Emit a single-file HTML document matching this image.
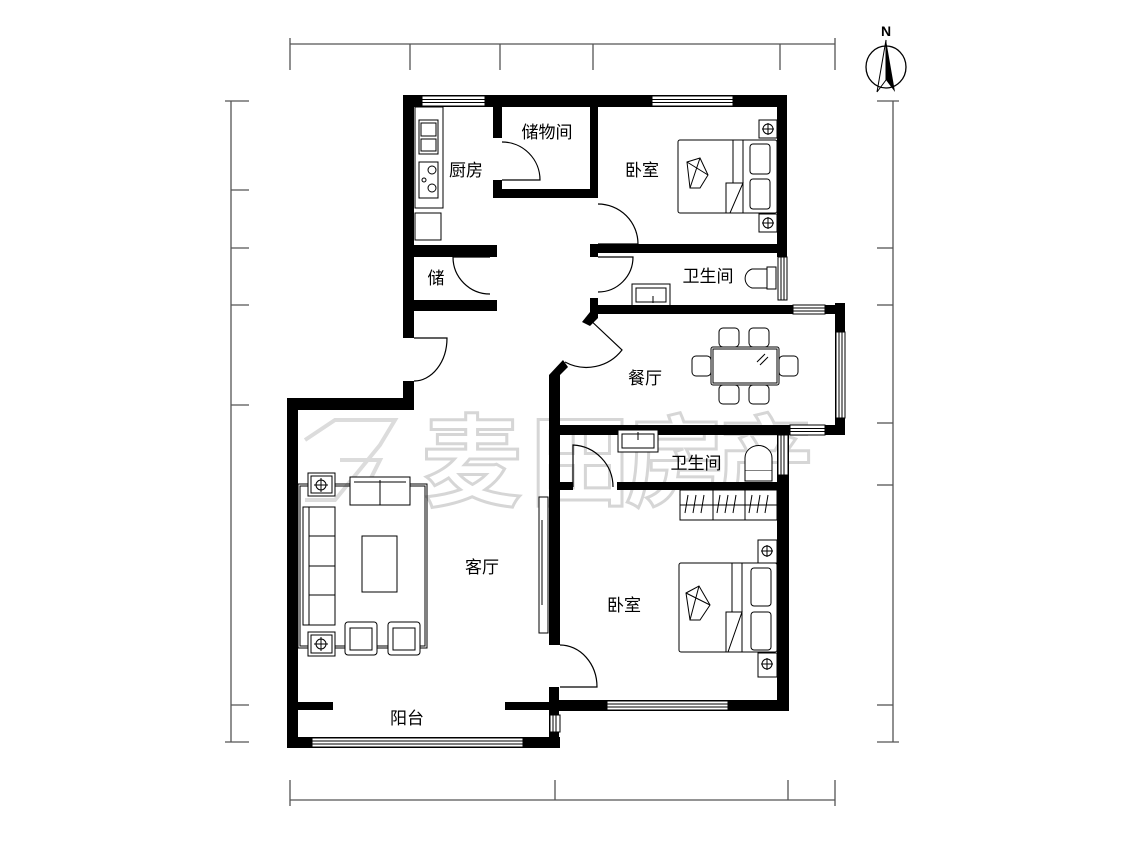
<!DOCTYPE html>
<html><head><meta charset="utf-8"><style>
html,body{margin:0;padding:0;background:#fff;}
svg{display:block;}
text{font-family:"Liberation Sans","Noto Sans CJK SC",sans-serif;}
</style></head><body>
<svg width="1125" height="844" viewBox="0 0 1125 844" xmlns="http://www.w3.org/2000/svg">
<rect width="1125" height="844" fill="#fff"/>
<g stroke="#555" stroke-width="1.3" fill="none">
<line x1="290" y1="44" x2="835" y2="44"/>
<line x1="290" y1="38" x2="290" y2="70"/><line x1="410" y1="44" x2="410" y2="70"/><line x1="500" y1="44" x2="500" y2="70"/><line x1="593" y1="44" x2="593" y2="70"/><line x1="780" y1="44" x2="780" y2="70"/><line x1="835" y1="38" x2="835" y2="70"/>
<line x1="290" y1="800" x2="835" y2="800"/>
<line x1="290" y1="780" x2="290" y2="806"/><line x1="555" y1="780" x2="555" y2="800"/><line x1="788" y1="780" x2="788" y2="800"/><line x1="835" y1="780" x2="835" y2="806"/>
<line x1="231" y1="101" x2="231" y2="742"/>
<line x1="225" y1="101" x2="249" y2="101"/><line x1="231" y1="190" x2="249" y2="190"/><line x1="231" y1="248" x2="249" y2="248"/><line x1="231" y1="305" x2="249" y2="305"/><line x1="231" y1="405" x2="249" y2="405"/><line x1="231" y1="705" x2="249" y2="705"/><line x1="225" y1="742" x2="249" y2="742"/>
<line x1="893" y1="101" x2="893" y2="742"/>
<line x1="877" y1="101" x2="899" y2="101"/><line x1="877" y1="248" x2="893" y2="248"/><line x1="877" y1="305" x2="893" y2="305"/><line x1="877" y1="423" x2="893" y2="423"/><line x1="877" y1="485" x2="893" y2="485"/><line x1="877" y1="705" x2="893" y2="705"/><line x1="877" y1="742" x2="899" y2="742"/>
</g>
<g>
<ellipse cx="886" cy="67" rx="20" ry="21" fill="none" stroke="#000" stroke-width="1.3"/>
<polygon points="886,40 877,92 886,80" fill="none" stroke="#000" stroke-width="1"/>
<polygon points="886,40 895,92 886,80" fill="#000"/>
<text x="886" y="36" font-size="14" text-anchor="middle" font-weight="bold">N</text>
</g>
<!-- watermark -->
<g fill="none" stroke="#dcdcdc" stroke-width="4">
<path d="M305 440 L335 420 L395 420 L380 445 L335 500 L305 500 M340 460 L380 460 L360 500"/>
</g>
<g font-size="100" fill="#fff" stroke="#d6d6d6" stroke-width="3" font-weight="bold">
<text x="422" y="498">麦</text><text x="530" y="498">田</text><text x="625" y="498">房</text><text x="715" y="498">产</text>
</g>
<g fill="#000">
<rect x="403" y="95" width="384" height="12"/>
<rect x="403" y="95" width="11" height="243"/>
<rect x="403" y="381" width="11" height="29"/>
<rect x="287" y="398" width="127" height="12"/>
<rect x="287" y="398" width="11" height="350"/>
<rect x="287" y="737" width="273" height="11"/>
<rect x="298" y="702" width="35" height="8"/>
<rect x="505" y="702" width="44" height="8"/>
<rect x="549" y="687" width="10" height="61"/>
<rect x="493" y="107" width="9" height="31"/>
<rect x="493" y="180" width="9" height="18"/>
<rect x="493" y="189" width="105" height="9"/>
<rect x="590" y="107" width="8" height="91"/>
<rect x="777" y="95" width="10" height="162"/>
<rect x="590" y="244" width="197" height="9"/>
<rect x="590" y="244" width="8" height="13"/>
<rect x="403" y="245" width="94" height="12"/>
<rect x="488" y="245" width="9" height="12"/>
<rect x="403" y="300" width="94" height="11"/>
<rect x="590" y="298" width="8" height="16"/>
<rect x="590" y="305" width="255" height="9"/>
<rect x="835" y="303" width="10" height="132"/>
<polygon points="590,312 598,314 598,318 590,326 582,322"/>
<polygon points="563,360 549,375 549,385 560,385 560,375 568,367"/>
<rect x="549" y="375" width="11" height="270"/>
<rect x="549" y="425" width="296" height="10"/>
<rect x="549" y="482" width="24" height="8"/>
<rect x="617" y="482" width="170" height="8"/>
<rect x="777" y="425" width="12" height="285"/>
<rect x="549" y="700" width="240" height="11"/>
</g>
<g fill="#fff" stroke="#000" stroke-width="1">
<rect x="422" y="96" width="63" height="10"/><line x1="422" y1="99.5" x2="485" y2="99.5"/><line x1="422" y1="102.5" x2="485" y2="102.5"/>
<rect x="652" y="96" width="81" height="10"/><line x1="652" y1="99.5" x2="733" y2="99.5"/><line x1="652" y1="102.5" x2="733" y2="102.5"/>
<rect x="778" y="257" width="9" height="43"/><line x1="781" y1="257" x2="781" y2="300"/><line x1="784" y1="257" x2="784" y2="300"/>
<rect x="793" y="305" width="32" height="9"/><line x1="793" y1="308" x2="825" y2="308"/><line x1="793" y1="311" x2="825" y2="311"/>
<rect x="836" y="332" width="9" height="86"/><line x1="839" y1="332" x2="839" y2="418"/><line x1="842" y1="332" x2="842" y2="418"/>
<rect x="790" y="425" width="35" height="10"/><line x1="790" y1="428.5" x2="825" y2="428.5"/><line x1="790" y1="431.5" x2="825" y2="431.5"/>
<rect x="778" y="435" width="10" height="40"/><line x1="781" y1="435" x2="781" y2="475"/><line x1="784" y1="435" x2="784" y2="475"/>
<rect x="607" y="701" width="121" height="9"/><line x1="607" y1="704" x2="728" y2="704"/><line x1="607" y1="707" x2="728" y2="707"/>
<rect x="312" y="738" width="211" height="9"/><line x1="312" y1="741" x2="523" y2="741"/><line x1="312" y1="744" x2="523" y2="744"/>
<rect x="550" y="715" width="10" height="17"/><line x1="553" y1="715" x2="553" y2="732"/><line x1="556" y1="715" x2="556" y2="732"/>
</g>
<g fill="none" stroke="#000" stroke-width="1.2">
<path d="M502 180 L540 180 A38 38 0 0 0 502 142"/>
<path d="M598 244 L638 244 A40 40 0 0 0 598 204"/>
<path d="M490 257 L453 257 A37 37 0 0 0 490 294"/>
<path d="M598 257 L633 257 A35 35 0 0 1 598 292"/>
<path d="M414 338 L447 338 A33 43 0 0 1 414 381"/>
<path d="M587 317 L622 350 A45 45 0 0 1 565 362"/>
<path d="M573 487 L573 445 A42 42 0 0 1 613 487"/>
<path d="M560 687 L597 687 A37 42 0 0 0 560 645"/>
</g>
<g fill="none" stroke="#000" stroke-width="1">
<rect x="415" y="107" width="28" height="101"/>
<rect x="419" y="120" width="19" height="34"/><rect x="421" y="123" width="15" height="13"/><rect x="421" y="139" width="15" height="12"/>
<rect x="419" y="162" width="19" height="36"/><circle cx="432" cy="170" r="4"/><circle cx="432" cy="188" r="4"/><circle cx="424" cy="180" r="2"/>
<rect x="415" y="213" width="26" height="27"/>
<rect x="678" y="140" width="99" height="73" rx="2"/><line x1="733" y1="140" x2="733" y2="183"/><line x1="743" y1="140" x2="743" y2="213"/>
<polygon points="726,183 743,183 730,213 726,213"/>
<rect x="750" y="144" width="20" height="30" rx="3"/><rect x="750" y="179" width="20" height="30" rx="3"/>
<polygon points="687,162 700,158 708,175 700,188 690,188"/><line x1="687" y1="162" x2="708" y2="175"/><line x1="690" y1="188" x2="700" y2="158"/>
<rect x="759" y="120" width="18" height="18"/><circle cx="768" cy="129" r="5"/><line x1="762" y1="129" x2="774" y2="129"/><line x1="768" y1="123" x2="768" y2="135"/>
<rect x="759" y="214" width="18" height="18"/><circle cx="768" cy="223" r="5"/><line x1="762" y1="223" x2="774" y2="223"/><line x1="768" y1="217" x2="768" y2="229"/>
<rect x="679" y="563" width="98" height="89" rx="2"/><line x1="732" y1="563" x2="732" y2="612"/><line x1="742" y1="563" x2="742" y2="652"/>
<polygon points="726,612 742,612 728,652 726,652"/>
<rect x="751" y="568" width="20" height="38" rx="3"/><rect x="751" y="612" width="20" height="38" rx="3"/>
<polygon points="686,593 699,586 710,605 700,620 690,620"/><line x1="686" y1="593" x2="710" y2="605"/><line x1="690" y1="620" x2="699" y2="586"/>
<rect x="758" y="540" width="19" height="23"/><circle cx="767" cy="551" r="5"/><line x1="761" y1="551" x2="773" y2="551"/><line x1="767" y1="545" x2="767" y2="557"/>
<rect x="758" y="653" width="19" height="24"/><circle cx="767" cy="664" r="5"/><line x1="761" y1="664" x2="773" y2="664"/><line x1="767" y1="658" x2="767" y2="670"/>
<rect x="632" y="284" width="38" height="22"/><rect x="636" y="288" width="30" height="14"/><line x1="653" y1="296" x2="653" y2="303"/>
<rect x="767" y="267" width="9" height="22"/><path d="M767 269 L752 269 A10 10 0 0 0 752 288 L767 288"/>
<rect x="618" y="430" width="40" height="22" fill="#fff"/><rect x="622" y="434" width="32" height="14"/><line x1="638" y1="432" x2="638" y2="440"/>
<rect x="745" y="470" width="27" height="11" fill="#fff"/><path d="M745 470 L745 458 A13 12 0 0 1 772 458 L772 470" fill="#fff"/>
<rect x="680" y="490" width="97" height="30" fill="#fff"/><line x1="680" y1="505" x2="777" y2="505"/><line x1="713" y1="490" x2="713" y2="520"/><line x1="745" y1="490" x2="745" y2="520"/>
<path d="M688 495 l-3 18 M696 495 l-3 18 M704 495 l-3 18 M720 495 l-3 18 M728 495 l-3 18 M736 495 l-3 18 M752 495 l-3 18 M760 495 l-3 18 M768 495 l-3 18"/>
<rect x="711" y="347" width="68" height="38" rx="2"/><rect x="713" y="349" width="64" height="34"/>
<line x1="757" y1="362" x2="765" y2="354"/><line x1="760" y1="365" x2="768" y2="357"/>
<rect x="719" y="328" width="20" height="19" rx="4"/><rect x="749" y="328" width="20" height="19" rx="4"/>
<rect x="719" y="385" width="20" height="19" rx="4"/><rect x="749" y="385" width="20" height="19" rx="4"/>
<rect x="692" y="356" width="19" height="20" rx="4"/><rect x="779" y="356" width="19" height="20" rx="4"/>
<rect x="539" y="497" width="9" height="136" fill="#fff"/><line x1="542" y1="520" x2="542" y2="605"/>
<rect x="298" y="484" width="129" height="164"/><rect x="300" y="486" width="125" height="160"/>
<rect x="308" y="473" width="27" height="23" fill="#fff"/><rect x="311" y="476" width="21" height="17"/><circle cx="321" cy="485" r="5"/><line x1="314" y1="485" x2="328" y2="485"/><line x1="321" y1="478" x2="321" y2="492"/>
<rect x="308" y="632" width="27" height="24" fill="#fff"/><rect x="311" y="635" width="21" height="18"/><circle cx="321" cy="644" r="5"/><line x1="314" y1="644" x2="328" y2="644"/><line x1="321" y1="637" x2="321" y2="651"/>
<rect x="350" y="477" width="60" height="28" fill="#fff"/><line x1="380" y1="480" x2="380" y2="505"/><line x1="354" y1="482" x2="406" y2="482"/>
<rect x="303" y="507" width="32" height="118" fill="#fff"/><line x1="309" y1="507" x2="309" y2="625"/><line x1="309" y1="536" x2="335" y2="536"/><line x1="309" y1="566" x2="335" y2="566"/><line x1="309" y1="595" x2="335" y2="595"/>
<rect x="362" y="536" width="35" height="56"/>
<rect x="345" y="622" width="32" height="33" rx="3" fill="#fff"/><rect x="350" y="628" width="22" height="22"/>
<rect x="388" y="622" width="32" height="33" rx="3" fill="#fff"/><rect x="393" y="628" width="22" height="22"/>
</g>
<g font-size="17" fill="#000" text-anchor="middle">
<text x="466" y="176">厨房</text>
<text x="547" y="138">储物间</text>
<text x="642" y="176">卧室</text>
<text x="436" y="284">储</text>
<text x="708" y="282">卫生间</text>
<text x="645" y="384">餐厅</text>
<text x="696" y="469">卫生间</text>
<text x="482" y="573">客厅</text>
<text x="624" y="611">卧室</text>
<text x="407" y="724">阳台</text>
</g>
</svg>
</body></html>
